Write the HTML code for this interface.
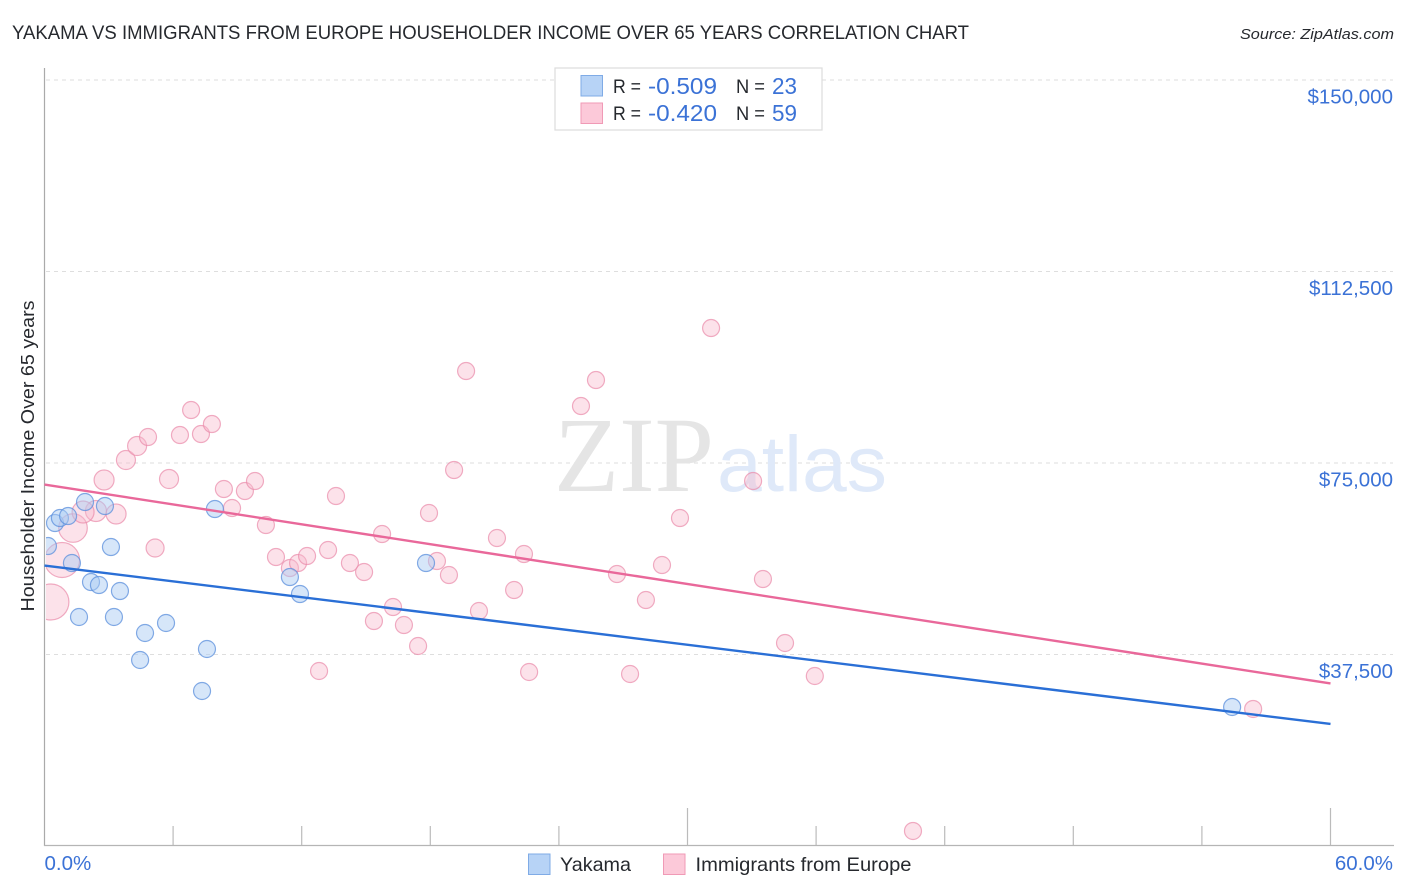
<!DOCTYPE html>
<html lang="en">
<head>
<meta charset="utf-8">
<title>Yakama vs Immigrants from Europe Householder Income Over 65 Years Correlation Chart</title>
<style>
html,body{margin:0;padding:0;background:#fff;width:1406px;height:892px;overflow:hidden}
svg{display:block;font-family:"Liberation Sans",sans-serif}
</style>
</head>
<body>
<svg id="chart" width="1406" height="892" viewBox="0 0 1406 892" xmlns="http://www.w3.org/2000/svg">
  <defs><clipPath id="plot-clip"><rect x="46" y="60" width="1350" height="785"/></clipPath></defs>
  <text x="12" y="39" font-size="19.5" fill="#26292e" textLength="957" lengthAdjust="spacingAndGlyphs">YAKAMA VS IMMIGRANTS FROM EUROPE HOUSEHOLDER INCOME OVER 65 YEARS CORRELATION CHART</text>
  <text x="1394" y="39" font-size="15" font-style="italic" fill="#26292e" text-anchor="end" textLength="154" lengthAdjust="spacingAndGlyphs">Source: ZipAtlas.com</text>

  <g id="grid"></g>

  <g>
    <text x="554" y="491" font-family="'Liberation Serif',serif" font-size="107" fill="#e5e5e5" textLength="160" lengthAdjust="spacingAndGlyphs">ZIP</text>
    <text x="717" y="491" font-size="79" fill="#dfe9f9" textLength="170" lengthAdjust="spacingAndGlyphs">atlas</text>
  </g>

  <g id="axes">
    <line x1="44.5" y1="68" x2="44.5" y2="846" stroke="#aaa" stroke-width="1.2"/>
    <line x1="44" y1="845.5" x2="1394" y2="845.5" stroke="#b5b5b5" stroke-width="1.2"/>
  </g>

  <g id="points" clip-path="url(#plot-clip)"></g>
  <g id="trends"></g>
  <g id="labels"></g>

  <g>
    <rect x="555" y="68" width="267" height="62" fill="#fff" stroke="#dcdcdc" stroke-width="1.2"/>
    <rect x="581" y="75.5" width="21.5" height="20.5" fill="#b7d3f6" stroke="#7fabe6" stroke-width="1"/>
    <rect x="581" y="103" width="21.5" height="20.5" fill="#fcc9d9" stroke="#f09ab6" stroke-width="1"/>
    <text x="613" y="93" font-size="19.5" fill="#26292e" textLength="28" lengthAdjust="spacingAndGlyphs">R =</text>
    <text x="648" y="94" font-size="23" fill="#3b72d6" textLength="69" lengthAdjust="spacingAndGlyphs">-0.509</text>
    <text x="736" y="93" font-size="19.5" fill="#26292e" textLength="29" lengthAdjust="spacingAndGlyphs">N =</text>
    <text x="772" y="94" font-size="23" fill="#3b72d6" textLength="25" lengthAdjust="spacingAndGlyphs">23</text>
    <text x="613" y="120" font-size="19.5" fill="#26292e" textLength="28" lengthAdjust="spacingAndGlyphs">R =</text>
    <text x="648" y="121" font-size="23" fill="#3b72d6" textLength="69" lengthAdjust="spacingAndGlyphs">-0.420</text>
    <text x="736" y="120" font-size="19.5" fill="#26292e" textLength="29" lengthAdjust="spacingAndGlyphs">N =</text>
    <text x="772" y="121" font-size="23" fill="#3b72d6" textLength="25" lengthAdjust="spacingAndGlyphs">59</text>
  </g>

  <text transform="translate(34 456) rotate(-90)" font-size="18.5" fill="#26292e" text-anchor="middle" textLength="311" lengthAdjust="spacingAndGlyphs">Householder Income Over 65 years</text>

  <g>
    <rect x="528.5" y="854" width="21.5" height="20.5" fill="#b7d3f6" stroke="#7fabe6" stroke-width="1"/>
    <text x="560" y="871" font-size="19.5" fill="#26292e" textLength="71" lengthAdjust="spacingAndGlyphs">Yakama</text>
    <rect x="663.5" y="854" width="21.5" height="20.5" fill="#fcc9d9" stroke="#f09ab6" stroke-width="1"/>
    <text x="695.5" y="871" font-size="19.5" fill="#26292e" textLength="216" lengthAdjust="spacingAndGlyphs">Immigrants from Europe</text>
  </g>
</svg>
<script>
// Chart data
const yTickValues = [37500, 75000, 112500, 150000];
const yTickLabels = ['$37,500', '$75,000', '$112,500', '$150,000'];
const xTickValues = [0, 6, 12, 18, 24, 30, 36, 42, 48, 54, 60];
const xEndValues = [0, 60];
const xEndLabels = ['0.0%', '60.0%'];

const yakamaX = [0.16,0.49,0.72,1.10,1.89,2.82,7.95,3.10,1.28,2.17,2.54,3.52,1.61,3.24,4.69,5.67,4.46,7.58,7.35,11.45,11.92,17.80,55.41];
const yakamaY = [58744,63248,64227,64618,67360,66576,65989,58549,55416,51696,51108,49933,44843,44843,41710,43668,36423,38577,30353,52675,49346,55416,27220];

const immigrantsX = [0.30,0.82,1.33,2.40,1.80,3.34,2.78,3.80,4.32,4.83,5.81,5.16,6.84,6.32,7.30,7.81,8.37,9.35,9.82,8.75,10.33,10.80,11.45,11.83,12.25,12.81,13.23,13.60,14.25,14.91,15.37,15.75,16.26,16.77,17.43,17.94,18.31,18.87,19.11,19.67,20.27,21.11,21.91,22.37,22.61,25.03,25.73,26.71,27.32,28.06,28.81,29.65,31.10,33.06,33.52,34.55,35.94,40.52,56.39];
const immigrantsY = [47780,56003,62269,65597,65402,65010,71667,75583,78324,80087,71863,58353,85373,80478,80674,82632,69905,69513,71471,66185,62856,56591,54437,55416,56786,34269,57961,68534,55416,53654,44059,61094,46801,43276,39164,65206,55807,53066,73625,93009,46017,60311,50129,57178,34073,86156,91247,53262,33682,48171,55024,64227,101429,71471,52283,39752,33290,2941,26829];
const immigrantsWeight = [4.48,4.24,2.83,1.53,1.67,1.38,1.38,1.25,1.25,1,1.25,1.12,1,1,1,1,1,1,1,1,1,1,1,1,1,1,1,1,1,1,1,1,1,1,1,1,1,1,1,1,1,1,1,1,1,1,1,1,1,1,1,1,1,1,1,1,1,1,1];

const trendYakama = [0, 54926, 60, 23892];
const trendImmigrants = [0, 70786, 60, 31822];

// Axis functions
function xScale(v) { return 44.5 + v * (1286 / 60); }
function yScale(v) { return 654.5 - (v - 37500) * (191.5 / 37500); }
function radius(w) { return 8.5 * Math.sqrt(w); }

const NS = 'http://www.w3.org/2000/svg';
function make(tag, attrs, parent) {
  const el = document.createElementNS(NS, tag);
  for (const k in attrs) el.setAttribute(k, attrs[k]);
  parent.appendChild(el);
  return el;
}
const grid = document.getElementById('grid');
const axes = document.getElementById('axes');
const pts = document.getElementById('points');
const trends = document.getElementById('trends');
const labels = document.getElementById('labels');

yTickValues.forEach(function (v, i) {
  const g = make('line', {x1: 46, x2: 1393, y1: yScale(v), y2: yScale(v), stroke: '#dedede', 'stroke-width': 1, 'stroke-dasharray': '4 4'}, grid);
  
  
  const t = make('text', {x: 1393, y: yScale(v) + 23.5, 'font-size': 20.5, fill: '#3b72d6', 'text-anchor': 'end'}, labels);
  t.textContent = yTickLabels[i];
  
  
});

xTickValues.forEach(function (v, i) {
  const tall = (v === 30 || v === 60);
  if (v === 0) return;
  const t = make('line', {x1: xScale(v), x2: xScale(v), y1: tall ? 808 : 826, y2: 845, stroke: '#bbb', 'stroke-width': 1.2}, axes);
  
  
});

xEndValues.forEach(function (v, i) {
  const t = make('text', {x: i === 0 ? xScale(v) : 1393, y: 870, 'font-size': 20.5, fill: '#3b72d6', 'text-anchor': i === 0 ? 'start' : 'end'}, labels);
  t.textContent = xEndLabels[i];
  
  
});

immigrantsX.forEach(function (v, i) {
  const c = make('circle', {cx: xScale(v), cy: yScale(immigrantsY[i]), r: radius(immigrantsWeight[i]), fill: '#f9b9cd', 'fill-opacity': 0.42, stroke: '#e98aa9', 'stroke-opacity': 0.7, 'stroke-width': 1.2}, pts);
  
  
});

yakamaX.forEach(function (v, i) {
  const c = make('circle', {cx: xScale(v), cy: yScale(yakamaY[i]), r: radius(1), fill: '#a9caf3', 'fill-opacity': 0.48, stroke: '#5b8fdc', 'stroke-opacity': 0.75, 'stroke-width': 1.2}, pts);
  
  
});

const lineYakama = make('line', {x1: xScale(trendYakama[0]), y1: yScale(trendYakama[1]), x2: xScale(trendYakama[2]), y2: yScale(trendYakama[3]), stroke: '#2a6fd6', 'stroke-width': 2.4}, trends);



const lineImmigrants = make('line', {x1: xScale(trendImmigrants[0]), y1: yScale(trendImmigrants[1]), x2: xScale(trendImmigrants[2]), y2: yScale(trendImmigrants[3]), stroke: '#e9689a', 'stroke-width': 2.4}, trends);


</script>
</body>
</html>
